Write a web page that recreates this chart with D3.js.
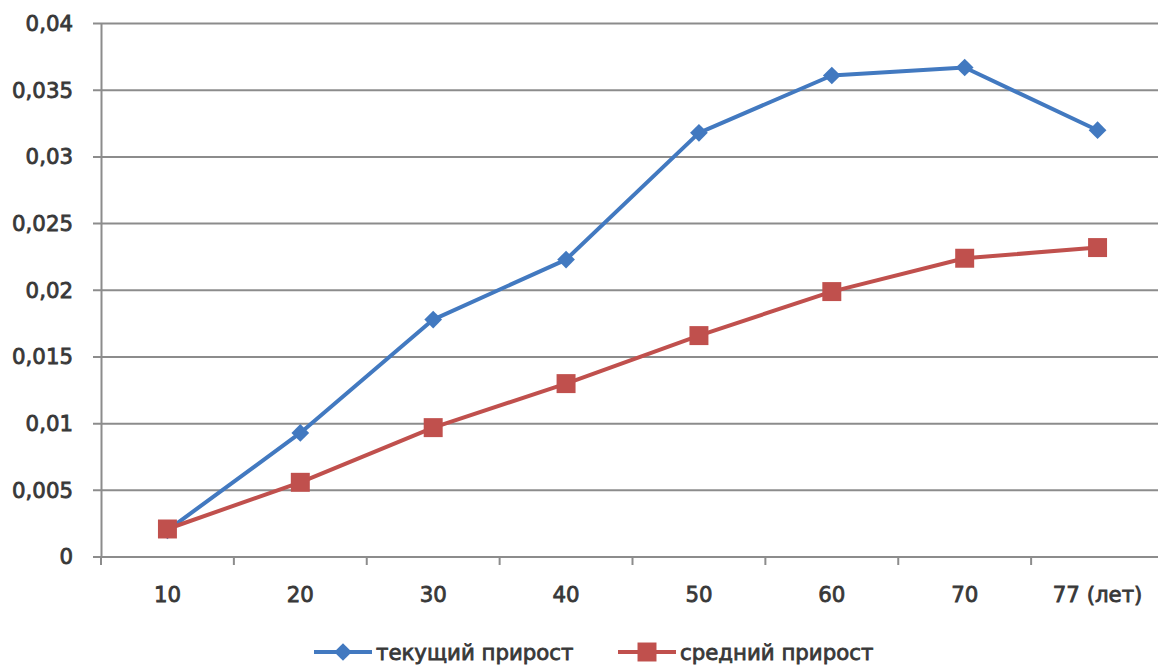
<!DOCTYPE html>
<html><head><meta charset="utf-8">
<script src="https://cdn.jsdelivr.net/npm/d3@7"></script>
<style>body{margin:0;background:#fff;overflow:hidden}</style>
</head><body><svg id="c" width="1158" height="666"></svg>
<script>
const categories = ["10","20","30","40","50","60","70","77 (лет)"];
const currentGrowth = [0.0020,0.0093,0.0178,0.0223,0.0318,0.0361,0.0367,0.0320];
const meanGrowth = [0.0021,0.0056,0.0097,0.0130,0.0166,0.0199,0.0224,0.0232];
const yTicks = [0,0.005,0.01,0.015,0.02,0.025,0.03,0.035,0.04];
const seriesNames = ["текущий прирост","средний прирост"];
const colors = ["#4279c0","#c0504d"];

(function(){
const svg = d3.select("#c");
const pl=101, pr=1164, pt=23.5, pb=557;
const x = d3.scaleBand().domain(categories).range([pl,pr]);
const y = d3.scaleLinear().domain([0,0.04]).range([pb,pt]);
const font = "'DejaVu Sans', sans-serif";
const fmt = d => String(+d.toFixed(3)).replace(".",",");
const styleText = s => s.attr("font-family",font).attr("font-size",21.3)
  .attr("fill","#383838").attr("stroke","#383838").attr("stroke-width",0.8);

svg.append("g").selectAll("line").data(yTicks).join("line")
  .attr("x1",pl-8).attr("x2",1158).attr("y1",d=>y(d)).attr("y2",d=>y(d))
  .attr("stroke","#8c8c8c").attr("stroke-width",2);
const ya = svg.append("g").attr("transform",`translate(${pl},0)`)
  .call(d3.axisLeft(y).tickValues(yTicks).tickFormat(fmt).tickSize(0).tickPadding(28));
ya.select(".domain").attr("stroke","#8c8c8c").attr("stroke-width",2);
styleText(ya.selectAll("text"));
const xa = svg.append("g").attr("transform",`translate(0,${pb})`)
  .call(d3.axisBottom(x).tickSize(0).tickPadding(30));
xa.select(".domain").remove();
styleText(xa.selectAll("text"));
svg.append("line").attr("x1",pl).attr("x2",1158).attr("y1",pb).attr("y2",pb)
  .attr("stroke","#8c8c8c").attr("stroke-width",2);
svg.append("g").selectAll("line").data(categories).join("line")
  .attr("x1",d=>x(d)).attr("x2",d=>x(d)).attr("y1",pb).attr("y2",pb+8)
  .attr("stroke","#8c8c8c").attr("stroke-width",2);

const cx = d => x(d)+x.bandwidth()/2;
const line = d3.line().x((d,i)=>cx(categories[i])).y(d=>y(d));
const diamond = d3.symbol().type(d3.symbolDiamond2).size(200);
const square = d3.symbol().type(d3.symbolSquare).size(360);

[currentGrowth, meanGrowth].forEach((vals,k)=>{
  svg.append("path").datum(vals).attr("d",line).attr("fill","none")
    .attr("stroke",colors[k]).attr("stroke-width",4).attr("stroke-linejoin","round");
  svg.append("g").selectAll("path").data(vals).join("path")
    .attr("d",k===0?diamond:square)
    .attr("transform",(d,i)=>`translate(${cx(categories[i])},${y(d)})`)
    .attr("fill",colors[k]);
});

const lg = [{x:314,t:seriesNames[0]},{x:618,t:seriesNames[1]}];
lg.forEach((l,k)=>{
  const g = svg.append("g");
  g.append("line").attr("x1",l.x).attr("x2",l.x+58).attr("y1",652).attr("y2",652)
    .attr("stroke",colors[k]).attr("stroke-width",4);
  g.append("path").attr("d",k===0?diamond:square).attr("transform",`translate(${l.x+29},652)`).attr("fill",colors[k]);
  styleText(g.append("text").attr("x",l.x+62).attr("y",660).text(l.t));
});
})();
</script></body></html>
